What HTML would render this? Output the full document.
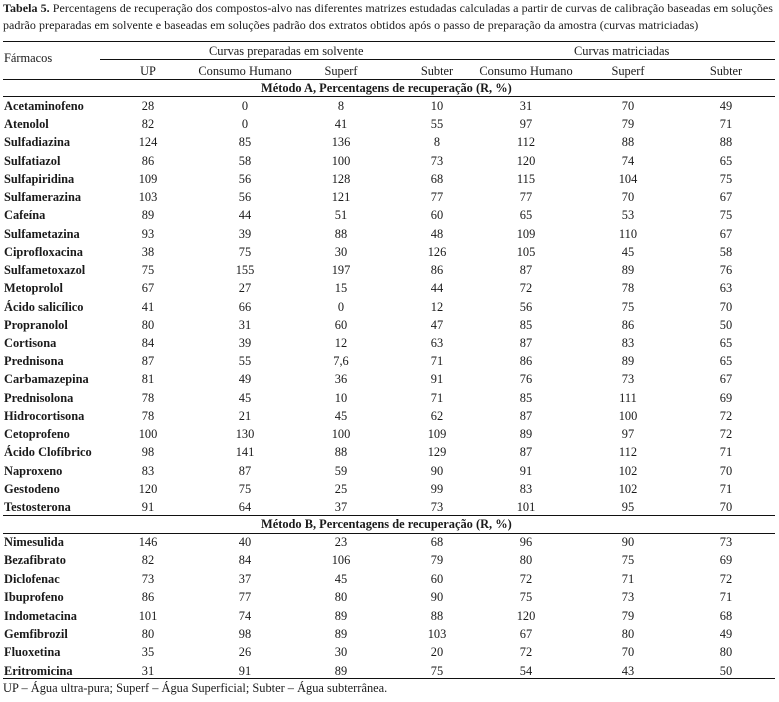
<!DOCTYPE html>
<html><head><meta charset="utf-8"><style>
body{margin:0;width:779px;height:702px;background:#fff;position:relative;overflow:hidden;font-family:"Liberation Serif",serif;font-size:12.4px;color:#1a1a1a}
.a{position:absolute;white-space:nowrap}
.l{position:absolute;height:1.3px;background:#111}
.r{position:absolute;left:0;width:779px;height:18.25px;line-height:18.25px;white-space:nowrap}
.r span{position:absolute;width:120px;text-align:center;white-space:nowrap}
.r b{position:absolute;left:4px}
.rb{height:18.4px;line-height:18.4px}
.t{font-size:12px;letter-spacing:0.05px}
</style></head><body>
<div class="a t" style="left:3px;top:0px;line-height:17px"><b>Tabela 5.</b> Percentagens de recuperação dos compostos-alvo nas diferentes matrizes estudadas calculadas a partir de curvas de calibração baseadas em soluções<br>padrão preparadas em solvente e baseadas em soluções padrão dos extratos obtidos após o passo de preparação da amostra (curvas matriciadas)</div>
<div class="l" style="left:3px;width:772px;top:41px"></div>
<div class="a" style="left:4px;top:51px">Fármacos</div>
<div class="a" style="left:209px;top:44px">Curvas preparadas em solvente</div>
<div class="a" style="left:574px;top:44px">Curvas matriciadas</div>
<div class="l" style="left:100px;width:675px;top:59px;height:1px"></div>
<div class="r" style="top:62px"><span style="left:88px">UP</span><span style="left:185px">Consumo Humano</span><span style="left:281px">Superf</span><span style="left:377px">Subter</span><span style="left:466px">Consumo Humano</span><span style="left:568px">Superf</span><span style="left:666px">Subter</span></div>
<div class="l" style="left:3px;width:772px;top:79px"></div>
<div class="a" style="left:261px;top:80px;line-height:17px"><b>Método A, Percentagens de recuperação (R, %)</b></div>
<div class="l" style="left:3px;width:772px;top:96px"></div>
<div id="A" style="position:absolute;top:97px;left:0"></div>
<div class="l" style="left:3px;width:772px;top:515px"></div>
<div class="a" style="left:261px;top:516px;line-height:17px"><b>Método B, Percentagens de recuperação (R, %)</b></div>
<div class="l" style="left:3px;width:772px;top:533px"></div>
<div id="B" style="position:absolute;top:533px;left:0"></div>
<div class="l" style="left:3px;width:772px;top:678px"></div>
<div class="a" style="left:3px;top:681px">UP – Água ultra-pura; Superf – Água Superficial; Subter – Água subterrânea.</div>
<script>
var X=[148,245,341,437,526,628,726];
var A=[["Acetaminofeno",28,0,8,10,31,70,49],["Atenolol",82,0,41,55,97,79,71],["Sulfadiazina",124,85,136,8,112,88,88],["Sulfatiazol",86,58,100,73,120,74,65],["Sulfapiridina",109,56,128,68,115,104,75],["Sulfamerazina",103,56,121,77,77,70,67],["Cafeína",89,44,51,60,65,53,75],["Sulfametazina",93,39,88,48,109,110,67],["Ciprofloxacina",38,75,30,126,105,45,58],["Sulfametoxazol",75,155,197,86,87,89,76],["Metoprolol",67,27,15,44,72,78,63],["Ácido salicílico",41,66,0,12,56,75,70],["Propranolol",80,31,60,47,85,86,50],["Cortisona",84,39,12,63,87,83,65],["Prednisona",87,55,"7,6",71,86,89,65],["Carbamazepina",81,49,36,91,76,73,67],["Prednisolona",78,45,10,71,85,111,69],["Hidrocortisona",78,21,45,62,87,100,72],["Cetoprofeno",100,130,100,109,89,97,72],["Ácido Clofíbrico",98,141,88,129,87,112,71],["Naproxeno",83,87,59,90,91,102,70],["Gestodeno",120,75,25,99,83,102,71],["Testosterona",91,64,37,73,101,95,70]];
var B=[["Nimesulida",146,40,23,68,96,90,73],["Bezafibrato",82,84,106,79,80,75,69],["Diclofenac",73,37,45,60,72,71,72],["Ibuprofeno",86,77,80,90,75,73,71],["Indometacina",101,74,89,88,120,79,68],["Gemfibrozil",80,98,89,103,67,80,49],["Fluoxetina",35,26,30,20,72,70,80],["Eritromicina",31,91,89,75,54,43,50]];
function f(id,d,h,c){var s="";d.forEach(function(r,i){s+='<div class="r '+c+'" style="top:'+(i*h)+'px"><b>'+r[0]+'</b>';for(var j=1;j<8;j++)s+='<span style="left:'+(X[j-1]-60)+'px">'+r[j]+'</span>';s+='</div>';});document.getElementById(id).innerHTML=s;}
f("A",A,18.23,"");f("B",B,18.4,"rb");
</script>
</body></html>
